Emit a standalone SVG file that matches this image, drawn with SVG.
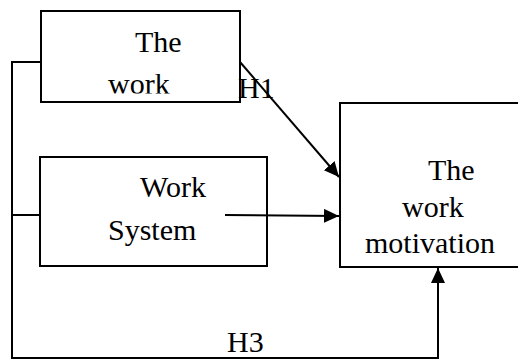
<svg xmlns="http://www.w3.org/2000/svg" width="518" height="360" viewBox="0 0 518 360">
<style>
.box{fill:#fff;stroke:#000;stroke-width:2}
.ln{fill:none;stroke:#000;stroke-width:2}
.t{font-family:'Liberation Serif','Times New Roman',serif;font-size:30px;fill:#000}
</style>
<defs>
<marker id="ah" markerUnits="userSpaceOnUse" markerWidth="16" markerHeight="16" refX="15" refY="7" orient="auto">
<path d="M0,0 L15,7 L0,14 Z" fill="#000"/>
</marker>
<clipPath id="c1"><rect x="41" y="11" width="199" height="82.5"/></clipPath>
</defs>
<rect width="518" height="360" fill="#fff"/>
<g id="node-work">
<rect class="box" x="41" y="11" width="199" height="91"/>
<text class="t" x="135" y="52">The</text>
<text class="t" x="108" y="94" clip-path="url(#c1)">work</text>
</g>
<g id="node-system">
<rect class="box" x="40" y="157" width="227" height="109"/>
<text class="t" x="140" y="197">Work</text>
<text class="t" x="108" y="240">System</text>
</g>
<g id="node-motivation">
<rect class="box" x="340" y="103" width="182" height="164"/>
<text class="t" x="428" y="180">The</text>
<text class="t" x="402" y="217">work</text>
<text class="t" x="365" y="253">motivation</text>
</g>
<g id="connectors">
<polyline class="ln" points="40,62 12,62 12,358 438,358 438,268" marker-end="url(#ah)"/>
<line class="ln" x1="12" y1="215" x2="39" y2="215"/>
<line class="ln" x1="240" y1="62" x2="339" y2="177" marker-end="url(#ah)"/>
<line class="ln" x1="225" y1="215" x2="339" y2="216" marker-end="url(#ah)"/>
</g>
<g id="labels">
<text class="t" x="238" y="98">H1</text>
<text class="t" x="227" y="352">H3</text>
</g>
</svg>
